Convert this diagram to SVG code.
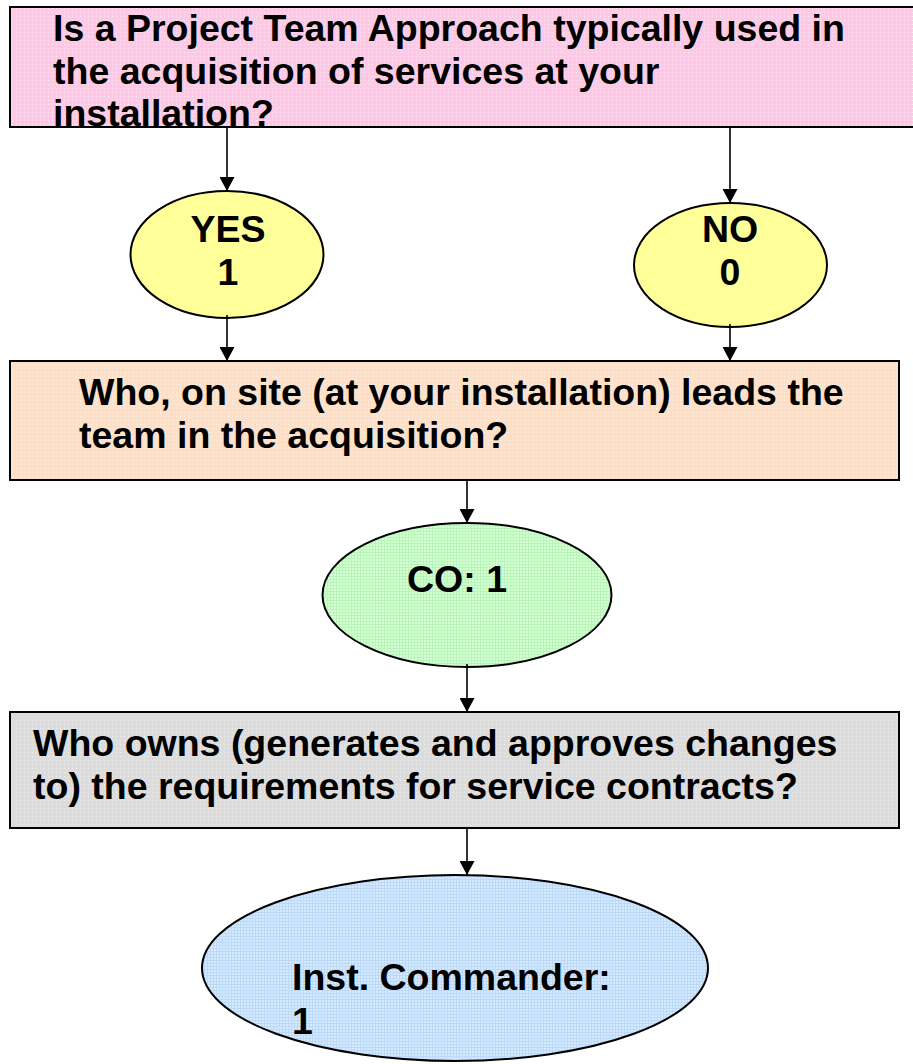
<svg xmlns="http://www.w3.org/2000/svg" width="913" height="1064" viewBox="0 0 913 1064">
  <defs>
    <!-- fine dotted textures used by the box and ellipse fills -->
    <pattern id="dotPink" width="4" height="4" patternUnits="userSpaceOnUse">
      <rect width="4" height="4" fill="#ffc8e6"/>
      <rect x="0" y="0" width="1" height="1" fill="#ffe6f3"/>
    </pattern>
    <pattern id="dotPeach" width="4" height="4" patternUnits="userSpaceOnUse">
      <rect width="4" height="4" fill="#ffdfc6"/>
      <rect x="0" y="0" width="1" height="1" fill="#fff0e4"/>
    </pattern>
    <pattern id="dotGray" width="4" height="4" patternUnits="userSpaceOnUse">
      <rect width="4" height="4" fill="#dcdcdc"/>
      <rect x="0" y="0" width="1" height="1" fill="#eeeeee"/>
    </pattern>
    <pattern id="gridGreen" width="3" height="3" patternUnits="userSpaceOnUse">
      <rect width="3" height="3" fill="#d6ffd6"/>
      <rect x="0" y="0" width="3" height="1" fill="#b8f5b8"/>
      <rect x="0" y="0" width="1" height="3" fill="#b8f5b8"/>
    </pattern>
    <pattern id="gridBlue" width="3" height="3" patternUnits="userSpaceOnUse">
      <rect width="3" height="3" fill="#d6eaff"/>
      <rect x="0" y="0" width="3" height="1" fill="#bcd9f7"/>
      <rect x="0" y="0" width="1" height="3" fill="#bcd9f7"/>
    </pattern>
    <!-- solid triangular arrowhead, tip at the end of the line -->
    <marker id="arrow" markerWidth="14" markerHeight="15" refX="14" refY="7.5" orient="auto" markerUnits="userSpaceOnUse" viewBox="0 0 14 15">
      <path d="M0,0 L14,7.5 L0,15 Z" fill="#000"/>
    </marker>
  </defs>
  <style>
    .lbl { font-family: "Liberation Sans", Arial, sans-serif; font-weight: bold; font-size: 37.5px; fill: #000; }
    .mid { text-anchor: middle; }
    .edge { fill: none; stroke: #000; stroke-width: 2; }
    .conn line { stroke: #000; stroke-width: 1.6; }
  </style>

  <rect width="913" height="1064" fill="#ffffff"/>

  <!-- question 1 -->
  <g id="q-team-approach">
    <rect x="10" y="7" width="920" height="120" fill="url(#dotPink)"/>
    <text class="lbl" x="53" y="41">Is a Project Team Approach typically used in</text>
    <text class="lbl" x="53" y="84">the acquisition of services at your</text>
    <text class="lbl" x="53" y="126">installation?</text>
    <rect class="edge" x="10" y="7" width="920" height="120"/>
  </g>

  <g id="ans-yes">
    <ellipse cx="227" cy="254.5" rx="96.5" ry="63.5" fill="#ffff99" stroke="#000" stroke-width="2"/>
    <text class="lbl mid" x="228" y="242">YES</text>
    <text class="lbl mid" x="228" y="285">1</text>
  </g>

  <g id="ans-no">
    <ellipse cx="730.5" cy="265" rx="96.5" ry="62" fill="#ffff99" stroke="#000" stroke-width="2"/>
    <text class="lbl mid" x="730" y="242">NO</text>
    <text class="lbl mid" x="730" y="285">0</text>
  </g>

  <!-- question 2 -->
  <g id="q-team-lead">
    <rect x="10" y="361" width="889" height="119" fill="url(#dotPeach)"/>
    <text class="lbl" x="79" y="405">Who, on site (at your installation) leads the</text>
    <text class="lbl" x="79" y="448">team in the acquisition?</text>
    <rect class="edge" x="10" y="361" width="889" height="119"/>
  </g>

  <g id="ans-co">
    <ellipse cx="467" cy="595" rx="144.5" ry="72" fill="url(#gridGreen)" stroke="#000" stroke-width="2"/>
    <text class="lbl" x="407" y="592">CO: 1</text>
  </g>

  <!-- question 3 -->
  <g id="q-requirements">
    <rect x="10" y="712" width="889" height="116" fill="url(#dotGray)"/>
    <text class="lbl" x="33" y="756">Who owns (generates and approves changes</text>
    <text class="lbl" x="33" y="799">to) the requirements for service contracts?</text>
    <rect class="edge" x="10" y="712" width="889" height="116"/>
  </g>

  <g id="ans-commander">
    <ellipse cx="455" cy="968" rx="253" ry="93" fill="url(#gridBlue)" stroke="#000" stroke-width="2"/>
    <text class="lbl" x="292" y="990">Inst. Commander:</text>
    <text class="lbl" x="292" y="1034">1</text>
  </g>

  <!-- connectors -->
  <g id="connectors" class="conn">
    <line x1="227" y1="127" x2="227" y2="191" marker-end="url(#arrow)"/>
    <line x1="730" y1="127" x2="730" y2="203" marker-end="url(#arrow)"/>
    <line x1="227" y1="315" x2="227" y2="361" marker-end="url(#arrow)"/>
    <line x1="730" y1="324" x2="730" y2="361" marker-end="url(#arrow)"/>
    <line x1="467" y1="480" x2="467" y2="523" marker-end="url(#arrow)"/>
    <line x1="467" y1="664" x2="467" y2="712" marker-end="url(#arrow)"/>
    <line x1="467" y1="828" x2="467" y2="875" marker-end="url(#arrow)"/>
  </g>
</svg>
